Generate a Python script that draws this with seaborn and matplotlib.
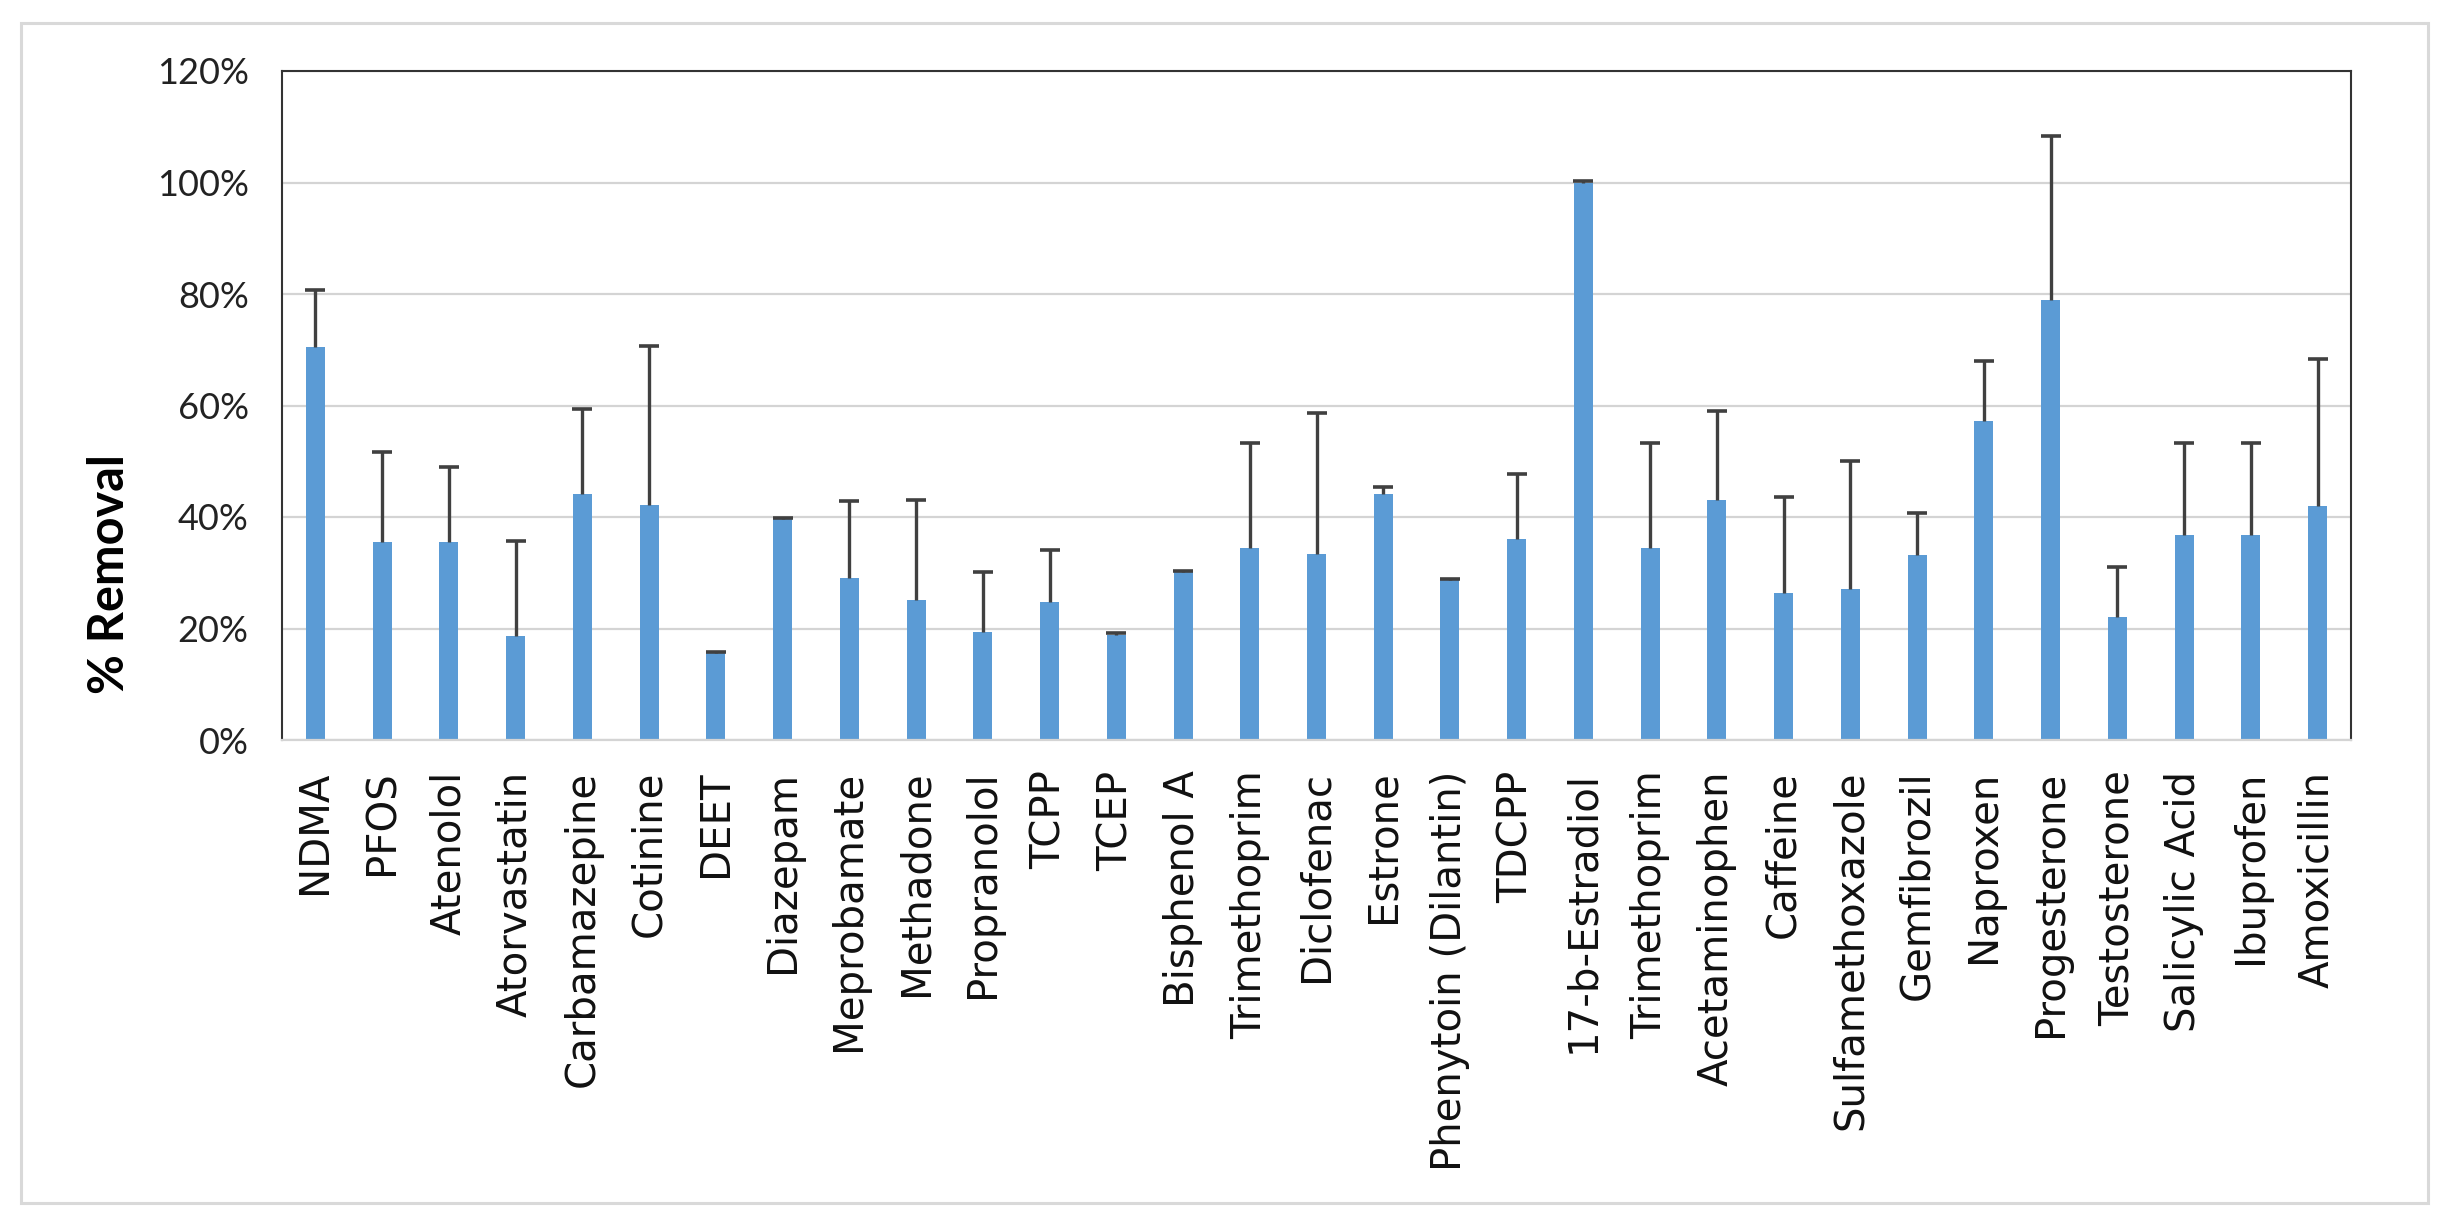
import numpy as np
import seaborn as sns
import matplotlib.pyplot as plt
import matplotlib.ticker as ticker
from matplotlib.patches import Rectangle

# compounds in plotted order (Trimethoprim shows up twice in the source)
compounds = [
    "NDMA", "PFOS", "Atenolol", "Atorvastatin", "Carbamazepine", "Cotinine",
    "DEET", "Diazepam", "Meprobamate", "Methadone", "Propranolol", "TCPP",
    "TCEP", "Bisphenol A", "Trimethoprim", "Diclofenac", "Estrone",
    "Phenytoin (Dilantin)", "TDCPP", "17-b-Estradiol", "Trimethoprim",
    "Acetaminophen", "Caffeine", "Sulfamethoxazole", "Gemfibrozil", "Naproxen",
    "Progesterone", "Testosterone", "Salicylic Acid", "Ibuprofen", "Amoxicillin",
]
# mean % removal
removal = [
    70.5, 35.6, 35.6, 18.6, 44.1, 42.2, 15.6, 39.6, 29.0, 25.1, 19.3, 24.7,
    18.9, 30.1, 34.4, 33.4, 44.1, 28.7, 36.0, 100.0, 34.4, 43.0, 26.3, 27.1,
    33.2, 57.3, 79.0, 22.0, 36.8, 36.8, 41.9,
]
# positive error only
err_plus = [
    10.2, 16.0, 13.3, 17.1, 15.3, 28.5, 0.2, 0.2, 13.8, 18.0, 10.9, 9.4,
    0.3, 0.3, 18.9, 25.3, 1.3, 0.2, 11.8, 0.3, 18.9, 16.0, 17.2, 23.0,
    7.5, 10.7, 29.4, 9.1, 16.5, 16.5, 26.5,
]
yticks = [0, 20, 40, 60, 80, 100, 120]

plt.rcParams["font.family"] = ["DejaVu Sans"]

W, H = 2449, 1224
fig = plt.figure(figsize=(W / 100, H / 100), dpi=100)
ax = fig.add_axes([282 / W, 1 - 740 / H, (2351 - 282) / W, (740 - 71) / H])

pos = np.arange(len(compounds))
sns.barplot(x=pos, y=removal, color="#5B9BD5", saturation=1, width=0.285,
            ax=ax, zorder=2)

# excel style plus-only error bars
centers = [p.get_x() + p.get_width() / 2 for p in ax.patches]
_, caps, _ = ax.errorbar(centers, removal, yerr=[np.zeros(len(removal)), err_plus],
                         fmt="none", ecolor="#404040", elinewidth=2.4,
                         capsize=7, capthick=2.6, zorder=3)
caps[0].set_visible(False)

ax.set_xlim(-0.5, len(compounds) - 0.5)
ax.set_ylim(0, 120)
ax.set_yticks(yticks)
ax.yaxis.set_major_formatter(ticker.FuncFormatter(lambda v, _: f"{v:.0f}%"))
ax.grid(axis="y", color="#d4d4d4", linewidth=1.6, zorder=0)
ax.set_axisbelow(True)

ax.set_xticks(pos)
ax.set_xticklabels(compounds, rotation=90)
ax.tick_params(axis="x", length=0, pad=22, labelsize=29, labelcolor="#111111")
ax.tick_params(axis="y", length=0, pad=24, labelsize=26, labelcolor="#222222")
for lab in ax.get_xticklabels():
    lab.set_fontfamily("DejaVu Sans")
for lab in ax.get_yticklabels():
    lab.set_fontfamily("Lato")

for side in ("left", "top", "right"):
    ax.spines[side].set_color("#333333")
    ax.spines[side].set_linewidth(1.5)
ax.spines["bottom"].set_color("#d4d4d4")
ax.spines["bottom"].set_linewidth(1.6)
ax.set_xlabel("")
ax.set_ylabel("")

fig.text(110 / W, 1 - 574 / H, "% Removal", rotation=90, ha="center",
         va="center", fontsize=35, fontweight="bold", family="Lato")

# thin grey frame around the whole chart
fig.patches.append(Rectangle((21 / W, 1 - 1203 / H), (2428 - 21) / W,
                             (1203 - 23) / H, transform=fig.transFigure,
                             fill=False, edgecolor="#d9d9d9", linewidth=2.2))

fig.savefig("out.png", dpi=100, facecolor="white")
